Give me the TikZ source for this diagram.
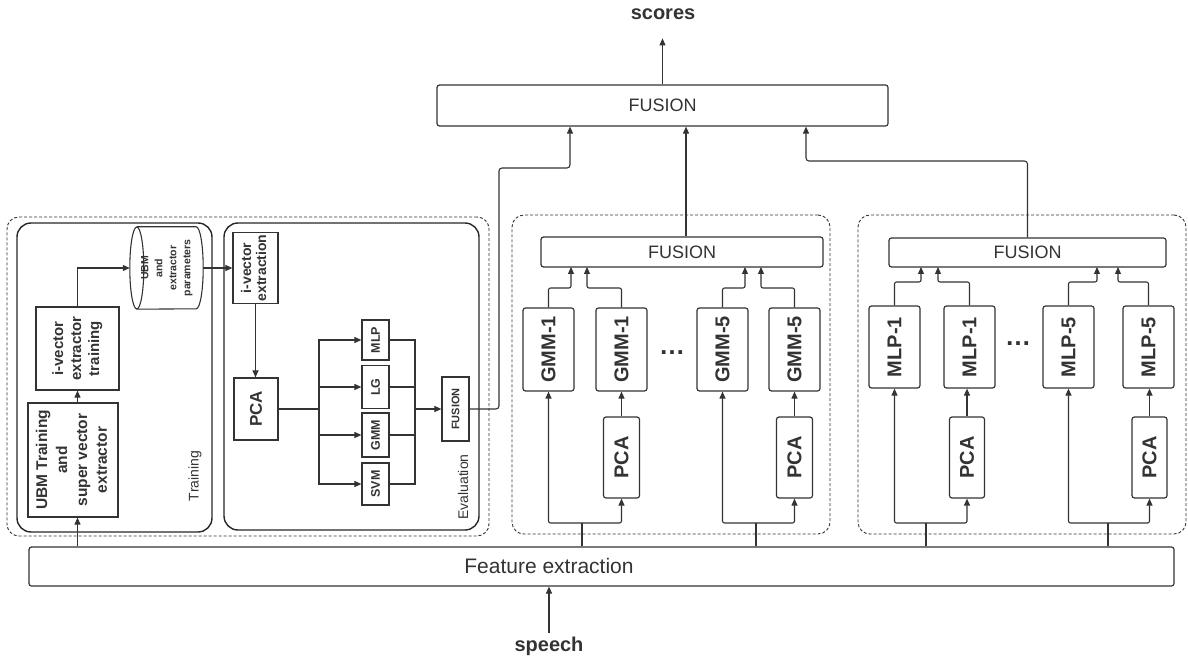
\documentclass[tikz,border=0pt]{standalone}
\usepackage{fontspec}
\usepackage{graphicx}
\setmainfont{Liberation Sans}
\usetikzlibrary{arrows.meta}
\definecolor{ink}{HTML}{333333}
\newcommand\vlab[1]{\rotatebox{90}{\begin{tabular}{@{}c@{}}#1\end{tabular}}}
\begin{document}
\begin{tikzpicture}[x=1pt,y=-1pt,
  every node/.style={text=ink},
  box/.style={draw=ink, line width=1.2pt, rounded corners=2.5pt, inner sep=0pt, align=center},
  sq/.style={draw=ink, line width=1.2pt, inner sep=0pt, align=center},
  grp/.style={draw=ink, line width=0.9pt, dash pattern=on 3pt off 2pt, rounded corners=12pt, inner sep=0pt},
  panel/.style={draw=black!85, line width=1.4pt, rounded corners=14pt, inner sep=0pt},
  ln/.style={draw=ink, line width=1.1pt},
  arr/.style={ln, -{Triangle[length=7pt,width=6pt]}},
  bigf/.style={font={\fontsize{18}{21}\selectfont}},
  lblf/.style={font={\fontsize{20}{24}\selectfont\bfseries}},
  dotsf/.style={font={\fontsize{26}{26}\selectfont\bfseries}, anchor=base, inner sep=0pt},
  gbox/.style={box, lblf, minimum width=51, minimum height=83},
  pbox/.style={box, lblf, minimum width=36, minimum height=81},
  cls/.style={sq, font={\fontsize{12.5}{14}\selectfont\bfseries}, minimum width=27},
]
\useasboundingbox (0,0) rectangle (1188,660);

% ---------- top level ----------
\node[lblf] (scores) at (663,14) {scores};
\node[box, bigf, minimum width=451, minimum height=41] (tfus) at (662.5,105.5) {FUSION};
\draw[arr] (tfus.north) -- ++(0,-46);

\node[box, minimum width=1145, minimum height=39] (feat) at (601.5,566.5) {};
\node[font={\fontsize{21}{24}\selectfont}] (featlbl) at (549,566) {Feature extraction};
\node[lblf] (speech) at (549,646) {speech};
\draw[arr] (speech.north) -- (speech.north |- feat.south);

% ---------- i-vector system ----------
\node[grp, minimum width=482, minimum height=319] (gl) at (248,376.5) {};
\node[panel, minimum width=195, minimum height=309] (trn) at (114.5,377.5) {};
\node[panel, minimum width=255, minimum height=307] (evl) at (351.5,376.5) {};
\node[font={\fontsize{14}{16}\selectfont}] (trnlbl) at (195,476) {\rotatebox{90}{Training}};
\node[font={\fontsize{14}{16}\selectfont}] (evllbl) at (463,487) {\rotatebox{90}{Evaluation}};

\node[sq, font={\fontsize{15.5}{20}\selectfont\bfseries}, minimum width=90, minimum height=114] (ubm) at (73,460)
  {\vlab{UBM Training\\and\\super vector\\extractor}};
\node[sq, font={\fontsize{15}{18}\selectfont\bfseries}, minimum width=83, minimum height=83] (ivt) at (77.5,348.5)
  {\vlab{i-vector\\extractor\\training}};
\node[inner sep=0pt, font={\fontsize{10.5}{14}\selectfont\bfseries}, minimum width=73, minimum height=82] (db) at (166.5,268)
  {\vlab{UBM\\and\\extractor\\parameters}};
% database cylinder lying on its side
\draw[ln] ([xshift=7pt]db.west) ellipse [x radius=7pt, y radius=41pt];
\draw[ln] ([xshift=7pt]db.north west) -- ([xshift=-7pt]db.north east)
  arc[start angle=90, end angle=-90, x radius=7pt, y radius=41pt] -- ([xshift=7pt]db.south west);

\node[sq, font={\fontsize{14}{15}\selectfont\bfseries}, minimum width=45, minimum height=71] (ive) at (255.5,268)
  {\vlab{i-vector\\extraction}};
\node[sq, font={\fontsize{17}{20}\selectfont\bfseries}, minimum width=44, minimum height=62] (pca0) at (256,409)
  {\rotatebox{90}{PCA}};
\node[cls, minimum height=40] (cmlp) at (375.5,340) {\rotatebox{90}{MLP}};
\node[cls, minimum height=43] (clg) at (375.5,387) {\rotatebox{90}{LG}};
\node[cls, minimum height=44] (cgmm) at (375.5,435) {\rotatebox{90}{GMM}};
\node[cls, minimum height=42] (csvm) at (375.5,484) {\rotatebox{90}{SVM}};
\node[sq, font={\fontsize{11}{13}\selectfont\bfseries}, minimum width=27, minimum height=64] (sfus) at (455.5,409)
  {\rotatebox{90}{FUSION}};

\draw[arr] (ivt.south |- feat.north) -- (ivt.south |- ubm.south);
\draw[arr] (ivt.south |- ubm.north) -- (ivt.south);
\draw[arr] (ivt.north) |- (db.west);
\draw[arr] (db.east) -- (ive.west);
\draw[arr] (ive.south) -- (ive.south |- pca0.north);

\coordinate (bus1) at (319,409);
\coordinate (bus2) at (415,409);
\draw[ln] (pca0.east) -- (bus1);
\foreach \c in {cmlp,clg,cgmm,csvm} {
  \draw[arr] (bus1) |- (\c.west);
  \draw[ln] (\c.east) -| (bus2);
}
\draw[arr] (bus2) -- (sfus.west);
\coordinate (jl) at (499,168);
\coordinate (k1) at (570,168);
\draw[arr, rounded corners=3pt] (sfus.east) -| (jl) -- (k1) -- (k1 |- tfus.south);

% ---------- GMM systems ----------
\node[grp, minimum width=318, minimum height=319] (dgm) at (671,374.5) {};
\node[box, bigf, minimum width=282, minimum height=30] (gfus) at (682,252) {FUSION};
\node[gbox] (g1a) at (548.5,349.5) {\rotatebox{90}{GMM-1}};
\node[gbox] (g1b) at (621.5,349.5) {\rotatebox{90}{GMM-1}};
\node[gbox] (g5a) at (722.5,349.5) {\rotatebox{90}{GMM-5}};
\node[gbox] (g5b) at (794.5,349.5) {\rotatebox{90}{GMM-5}};
\node[pbox] (p1) at (621.5,457.5) {\rotatebox{90}{PCA}};
\node[pbox] (p2) at (794.5,457.5) {\rotatebox{90}{PCA}};
\node[dotsf] (dots1) at (672,354) {…};

\draw[arr] ([xshift=4pt]gfus.north) -- ([xshift=4pt]gfus.north |- tfus.south);
\foreach \b/\x in {g1a/571, g1b/587, g5a/745, g5b/761} {
  \draw[arr, rounded corners=2pt] (\b.north) |- (\x,288) -- (\x,267);
}
\coordinate (jg1) at (582,523);
\coordinate (jg2) at (756,523);
\draw[ln] (jg1 |- feat.north) -- (jg1);
\draw[ln] (jg2 |- feat.north) -- (jg2);
\draw[arr, rounded corners=2pt] (jg1) -| (g1a.south);
\draw[arr, rounded corners=2pt] (jg1) -| (p1.south);
\draw[arr, rounded corners=2pt] (jg2) -| (g5a.south);
\draw[arr, rounded corners=2pt] (jg2) -| (p2.south);
\draw[arr] (p1.north) -- (g1b.south);
\draw[arr] (p2.north) -- (g5b.south);

% ---------- MLP systems ----------
\node[grp, minimum width=328, minimum height=319] (dml) at (1022,374.5) {};
\node[box, bigf, minimum width=277, minimum height=29] (mfus) at (1027.5,252.5) {FUSION};
\node[gbox, minimum height=82] (m1a) at (894.5,347) {\rotatebox{90}{MLP-1}};
\node[gbox, minimum height=82] (m1b) at (969.5,347) {\rotatebox{90}{MLP-1}};
\node[gbox, minimum height=82] (m5a) at (1068.5,347) {\rotatebox{90}{MLP-5}};
\node[gbox, minimum height=82] (m5b) at (1148.5,347) {\rotatebox{90}{MLP-5}};
\node[pbox, minimum width=35] (q1) at (967,457.5) {\rotatebox{90}{PCA}};
\node[pbox, minimum width=35] (q2) at (1149.5,457.5) {\rotatebox{90}{PCA}};
\node[dotsf] (dots2) at (1018,345) {…};

\coordinate (k2) at (806,161);
\draw[arr, rounded corners=3pt] (mfus.north) |- (k2) -- (k2 |- tfus.south);
\foreach \b/\x in {m1a/921, m1b/938, m5a/1097, m5b/1118} {
  \draw[arr, rounded corners=2pt] (\b.north) |- (\x,282) -- (\x,267);
}
\coordinate (jm1) at (926,523);
\coordinate (jm2) at (1108,523);
\draw[ln] (jm1 |- feat.north) -- (jm1);
\draw[ln] (jm2 |- feat.north) -- (jm2);
\draw[arr, rounded corners=2pt] (jm1) -| (m1a.south);
\draw[arr, rounded corners=2pt] (jm1) -| (q1.south);
\draw[arr, rounded corners=2pt] (jm2) -| (m5a.south);
\draw[arr, rounded corners=2pt] (jm2) -| (q2.south);
\draw[arr] (q1.north) -- (q1.north |- m1b.south);
\draw[arr] (q2.north) -- (q2.north |- m5b.south);
\end{tikzpicture}
\end{document}
